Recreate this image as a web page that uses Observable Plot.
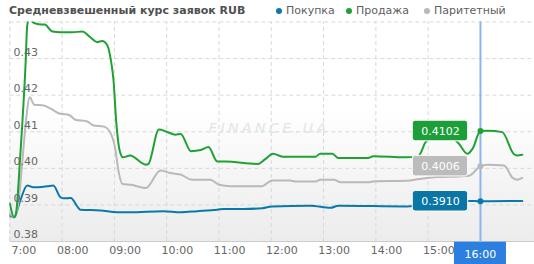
<!DOCTYPE html>
<html><head><meta charset="utf-8">
<script src="https://cdn.jsdelivr.net/npm/d3@7"></script>
<script src="https://cdn.jsdelivr.net/npm/@observablehq/plot@0.6"></script>
<style>
body{margin:0;background:#fff;font-family:"DejaVu Sans",Verdana,sans-serif;}
#head{position:relative;width:534px;height:20px;}
#head span{position:absolute;top:0;line-height:22px;font-size:11px;white-space:nowrap;}
#head .title{left:9px;font-weight:bold;color:#505050;}
#head .lt{color:#606060;}
#head .dot{width:6px;height:6px;border-radius:50%;top:8px;}
g[fill="#dde7e5"]{letter-spacing:3.5px;}
</style></head>
<body>
<div id="head"></div>
<div id="chart"></div>
<script>
const title = "Средневзвешенный курс заявок RUB";
const seriesNames = ["Покупка", "Продажа", "Паритетный"];
const seriesColors = ["#0b78aa", "#1ea135", "#b9b9b9"];
const boxColors = ["#0a76a6", "#1c9f38", "#bcbcbc"];

const buy = [["07:00",0.3871],["07:05",0.3866],["07:12",0.3912],["07:20",0.3953],["07:27",0.3948],["07:43",0.3951],["07:50",0.3953],["07:58",0.3921],["08:02",0.3918],["08:10",0.3919],["08:18",0.3894],["08:21",0.3887],["08:44",0.3885],["09:03",0.3880],["09:18",0.3880],["09:56",0.3883],["10:16",0.3880],["10:35",0.3883],["10:58",0.3887],["11:06",0.3889],["11:28",0.3889],["11:50",0.3891],["12:01",0.3896],["12:45",0.3898],["13:08",0.3892],["13:17",0.3898],["14:35",0.3896],["15:05",0.3900],["15:30",0.3905],["15:47",0.3911],["16:00",0.3910],["16:48",0.3911]];
const sell = [["07:00",0.3904],["07:05",0.3866],["07:07",0.3875],["07:12",0.4035],["07:18",0.4280],["07:20",0.4390],["07:23",0.4415],["07:27",0.4398],["07:33",0.4394],["07:40",0.4393],["07:49",0.4374],["07:58",0.4372],["08:12",0.4372],["08:23",0.4374],["08:33",0.4357],["08:40",0.4345],["08:46",0.4348],["08:52",0.4336],["08:56",0.4295],["08:59",0.4240],["09:02",0.4131],["09:06",0.4049],["09:10",0.4030],["09:18",0.4035],["09:36",0.4010],["09:39",0.4012],["09:51",0.4106],["10:00",0.4100],["10:10",0.4092],["10:16",0.4094],["10:28",0.4047],["10:39",0.4050],["10:48",0.4058],["10:58",0.4019],["11:07",0.4019],["11:45",0.4012],["11:53",0.4025],["12:02",0.4040],["12:13",0.4032],["12:51",0.4032],["12:56",0.4040],["13:10",0.4040],["13:17",0.4028],["13:51",0.4028],["13:57",0.4033],["14:34",0.4030],["14:48",0.4032],["14:53",0.4050],["14:56",0.4068],["15:05",0.4085],["15:25",0.4088],["15:35",0.4068],["15:45",0.4040],["15:51",0.4054],["16:00",0.4102],["16:08",0.4103],["16:25",0.4099],["16:38",0.4040],["16:42",0.4035],["16:48",0.4037]];
const par = [["07:00",0.3877],["07:05",0.3866],["07:10",0.3907],["07:14",0.4008],["07:18",0.4117],["07:23",0.4194],["07:28",0.4174],["07:39",0.4172],["07:47",0.4163],["07:58",0.4149],["08:08",0.4146],["08:15",0.4133],["08:29",0.4128],["08:36",0.4117],["08:48",0.4114],["08:55",0.4099],["09:01",0.4053],["09:05",0.3989],["09:09",0.3958],["09:19",0.3955],["09:36",0.3946],["09:53",0.3994],["10:04",0.3987],["10:16",0.3983],["10:29",0.3969],["10:50",0.3969],["11:00",0.3955],["11:13",0.3951],["11:49",0.3951],["12:01",0.3967],["12:22",0.3967],["12:28",0.3964],["12:51",0.3964],["12:56",0.3969],["13:12",0.3969],["13:19",0.3962],["13:51",0.3962],["13:59",0.3965],["14:36",0.3966],["14:50",0.3971],["15:10",0.3976],["15:35",0.3978],["15:47",0.3980],["16:00",0.4006],["16:08",0.4010],["16:27",0.4008],["16:37",0.3974],["16:42",0.3969],["16:48",0.3974]];

const xTickLabels = ["7:00","08:00","09:00","10:00","11:00","12:00","13:00","14:00","15:00"];
const gridHours = ["07:00","08:00","09:00","10:00","11:00","12:00","13:00","14:00","15:00","16:00"];
const yTicks = [0.38,0.39,0.40,0.41,0.42,0.43];
const yGrid = [0.39,0.40,0.41,0.42,0.43,0.44];
const xDomain = ["07:00","17:02"];
const yDomain = [0.38, 0.44];
const cursorTime = "16:00";
const watermark = "FINANCE.UA";

const H = s => { const [a,b] = s.split(":"); return +a + (+b)/60; };
const toRows = arr => arr.map(([t,v]) => ({h: H(t), v}));
const all = [buy, sell, par].map(toRows);
const cur = H(cursorTime);
const atCursor = [buy, sell, par].map(a => a.find(d => d[0] === cursorTime)[1]);
const tips = atCursor.map((v,i) => ({h: cur, v, c: boxColors[i], s: seriesColors[i], t: v.toFixed(4)}));

// header
const head = document.getElementById("head");
head.innerHTML = `<span class="title">${title}</span>` +
  seriesNames.map((n,i) => {
    const L = [276, 346, 424][i];
    return `<span class="dot" style="left:${L}px;background:${seriesColors[i]}"></span><span class="lt" style="left:${L+10}px">${n}</span>`;
  }).join("");

const bg = (index, scales, values, dim) => {
  const g = d3.create("svg:g");
  const grad = g.append("defs").append("linearGradient").attr("id","bgGrad").attr("x1",0).attr("x2",0).attr("y1",0).attr("y2",1);
  grad.append("stop").attr("offset","0.4").attr("stop-color","#ffffff");
  grad.append("stop").attr("offset","1").attr("stop-color","#ececec");
  g.append("rect").attr("x", dim.marginLeft).attr("y", dim.marginTop)
    .attr("width", dim.width - dim.marginLeft - dim.marginRight)
    .attr("height", dim.height - dim.marginTop - dim.marginBottom)
    .attr("fill","url(#bgGrad)");
  return g.node();
};

const chart = Plot.plot({
  width: 534, height: 244,
  marginLeft: 9.3, marginRight: 0, marginTop: 1.5, marginBottom: 23,
  x: {domain: xDomain.map(H), axis: null},
  y: {domain: yDomain, axis: null},
  style: {background: "transparent", fontFamily: "DejaVu Sans, Verdana, sans-serif", fontSize: "11px", overflow: "visible"},
  marks: [
    bg,
    Plot.ruleY(yGrid, {stroke: "#d8d8d8", strokeDasharray: "4,3"}),
    Plot.ruleX(gridHours.map(H), {y1: yDomain[0], y2: yDomain[1], stroke: "#d8d8d8", strokeDasharray: "4,3"}),
    Plot.ruleY([yDomain[0]], {stroke: "#cccccc"}),
    Plot.text([watermark], {frameAnchor: "middle", dx: -3, dy: -3, fontSize: 14, fontStyle: "italic", fill: "#dde7e5"}),
    Plot.ruleX([cur], {y1: yDomain[0], y2: yDomain[1], stroke: "#8ab6ee", strokeWidth: 2}),
    Plot.line(all[0], {x: "h", y: "v", stroke: seriesColors[0], strokeWidth: 2, curve: "monotone-x", clip: true}),
    Plot.line(all[2], {x: "h", y: "v", stroke: seriesColors[2], strokeWidth: 2, curve: "monotone-x", clip: true}),
    Plot.line(all[1], {x: "h", y: "v", stroke: seriesColors[1], strokeWidth: 2, curve: "monotone-x", clip: true}),
    Plot.dot(tips, {x: "h", y: "v", fill: "s", r: 3}),
    Plot.rect(tips, {x1: "h", x2: "h", y1: "v", y2: "v", insetLeft: -27.7, insetRight: -27.7, insetTop: -10.3, insetBottom: -10.3, dx: -40, fill: "c", stroke: "white", strokeWidth: 1, rx: 3}),
    Plot.text(tips, {x: "h", y: "v", text: "t", dx: -40, dy: 0.5, fill: "white", fontSize: 11}),
    Plot.text(xTickLabels, {x: (d, i) => H(gridHours[i]), y: yDomain[0], dy: 9, dx: 26.5, textAnchor: "end", fill: "#666", text: d => d}),
    Plot.text(yTicks, {y: d => d, frameAnchor: "left", dx: 3.7, dy: -6.6, textAnchor: "start", fill: "#666", text: d => d.toFixed(2)}),
    Plot.rect([cur], {x1: d => d, x2: d => d, y1: yDomain[0], y2: yDomain[0], insetLeft: -26, insetRight: -26, insetTop: 0.7, insetBottom: -23, fill: "#2d7fdf"}),
    Plot.text([cursorTime], {x: cur, y: yDomain[0], dy: 12.5, fill: "white", fontSize: 11, text: d => d})
  ]
});
document.getElementById("chart").appendChild(chart);
</script>
</body></html>
